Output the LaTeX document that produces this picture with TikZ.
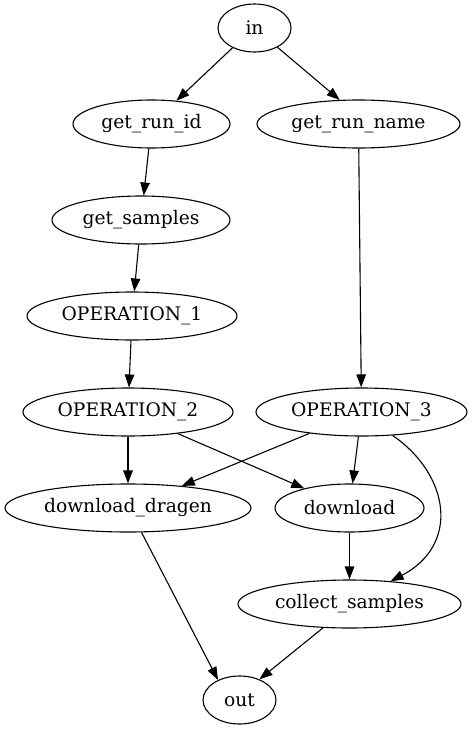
\documentclass[tikz,border=0pt]{standalone}
\usepackage{fontspec}
\setmainfont{DejaVu Serif}
\usetikzlibrary{shapes.geometric,arrows.meta}
\begin{document}
\begin{tikzpicture}[x=1pt,y=-1pt,
  gnode/.style={draw,ellipse,line width=1.1pt,inner sep=0pt,minimum height=48pt,
    font=\fontsize{18.67}{22}\selectfont},
  edge/.style={draw,line width=1.1pt,-{Triangle[length=13pt,width=9.5pt]}}]
\useasboundingbox (0,0) rectangle (472,731);
\node[gnode,minimum width=73pt] (in) at (254.5,28) {in};
\node[gnode,minimum width=157pt] (grid) at (151.5,124) {get\_run\_id};
\node[gnode,minimum width=203pt] (grn) at (358.5,124) {get\_run\_name};
\node[gnode,minimum width=178pt] (gs) at (141,220) {get\_samples};
\node[gnode,minimum width=210pt] (op1) at (132,316) {OPERATION\_1};
\node[gnode,minimum width=210pt] (op2) at (128,412) {OPERATION\_2};
\node[gnode,minimum width=211pt] (op3) at (361.5,412) {OPERATION\_3};
\node[gnode,minimum width=246pt] (dd) at (128,508) {download\_dragen};
\node[gnode,minimum width=149pt] (dl) at (349.5,508) {download};
\node[gnode,minimum width=223pt] (cs) at (349.5,604) {collect\_samples};
\node[gnode,minimum width=73pt] (out) at (239.5,700) {out};
\draw[edge] (in.-138) -- (grid.43);
\draw[edge] (in.-40) -- (grn.128);
\draw[edge] (grid) -- (gs);
\draw[edge] (gs) -- (op1);
\draw[edge] (op1) -- (op2);
\draw[edge] (grn) -- (op3);
\draw[edge] (op2) -- (dd);
\draw[edge] (op2) -- (dl);
\draw[edge] (op3) -- (dd);
\draw[edge] (op3) -- (dl);
\draw[edge] (op3.-37) .. controls (450,475) and (460,545) .. (cs.29);
\draw[edge] (dl) -- (cs);
\draw[edge] (dd.-61) -- (out.137);
\draw[edge] (cs.-138) -- (out.46);
\end{tikzpicture}
\end{document}
